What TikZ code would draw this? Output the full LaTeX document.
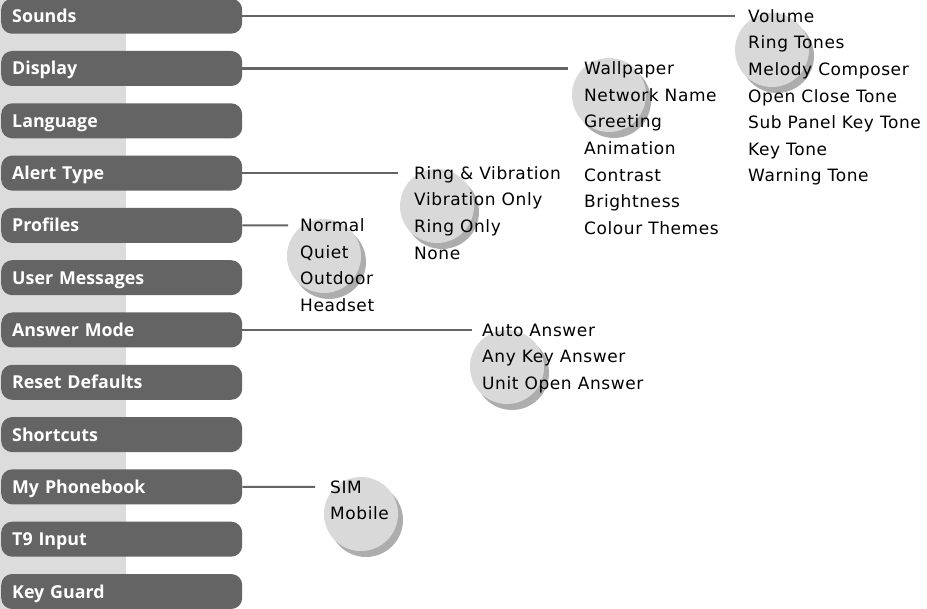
\documentclass[tikz,border=0pt]{standalone}
\usepackage{fontspec}
\setmainfont{DejaVu Sans}[LetterSpace=3.5]
\newfontfamily\btnfont{Open Sans}
\definecolor{btngray}{HTML}{646464}
\definecolor{panelgray}{HTML}{DCDCDC}
\definecolor{discgray}{HTML}{D9D9D9}
\definecolor{shadegray}{HTML}{ADADAD}
\begin{document}
\begin{tikzpicture}[x=1pt,y=-1pt,
 btn/.style={fill=btngray,rounded corners=11pt,anchor=west,inner xsep=11pt,inner ysep=0pt,
  minimum height=35pt,text width=219pt,align=left,text height=13pt,text depth=0pt,
  text=white,font=\btnfont\bfseries\fontsize{17.8}{20}\selectfont},
 item/.style={anchor=base west,inner sep=0pt,font=\fontsize{17}{20}\selectfont},
 link/.style={draw=btngray,line width=2.2pt}]
  \useasboundingbox (0,0) rectangle (927,609);
  \fill[panelgray] (0,0) rectangle (126,609);
  % discs behind the sub menus
  \foreach \cx/\cy in {772/50,609/95,437/206,324/256,507/367,361/514}{
    \fill[shadegray] (\cx+5,\cy+6) circle (37pt);
    \fill[discgray] (\cx,\cy) circle (37pt);}
  \foreach \t [count=\i from 0] in {Sounds,Display,Language,Alert Type,Profiles,User Messages,
    Answer Mode,Reset Defaults,Shortcuts,My Phonebook,T9 Input,Key Guard}
    \node[btn] (m\i) at (1,16.2+52.3*\i) {\t};
  \coordinate (e0) at (735,16.2);
  \coordinate (e1) at (568,68.5);
  \coordinate (e3) at (398,173.1);
  \coordinate (e4) at (288,225.4);
  \coordinate (e6) at (472,330.0);
  \coordinate (e9) at (315,486.9);
  \foreach \k in {0,1,3,4,6,9} \draw[link] (m\k.east) -- (e\k);
  \foreach \t [count=\i from 0] in {Volume,Ring Tones,Melody Composer,Open Close Tone,
    Sub Panel Key Tone,Key Tone,Warning Tone}
    \node[item] (snd\i) at (748,22.4+26.6*\i) {\t};
  \foreach \t [count=\i from 0] in {Wallpaper,Network Name,Greeting,Animation,Contrast,
    Brightness,Colour Themes}
    \node[item] (dsp\i) at (584,74.7+26.6*\i) {\t};
  \foreach \t [count=\i from 0] in {Ring \& Vibration,Vibration Only,Ring Only,None}
    \node[item] (alr\i) at (414,179.3+26.6*\i) {\t};
  \foreach \t [count=\i from 0] in {Normal,Quiet,Outdoor,Headset}
    \node[item] (prf\i) at (300,231.6+26.6*\i) {\t};
  \foreach \t [count=\i from 0] in {Auto Answer,Any Key Answer,Unit Open Answer}
    \node[item] (ans\i) at (482,336.2+26.6*\i) {\t};
  \foreach \t [count=\i from 0] in {SIM,Mobile}
    \node[item] (pbk\i) at (330,493.1+26.6*\i) {\t};
\end{tikzpicture}
\end{document}
